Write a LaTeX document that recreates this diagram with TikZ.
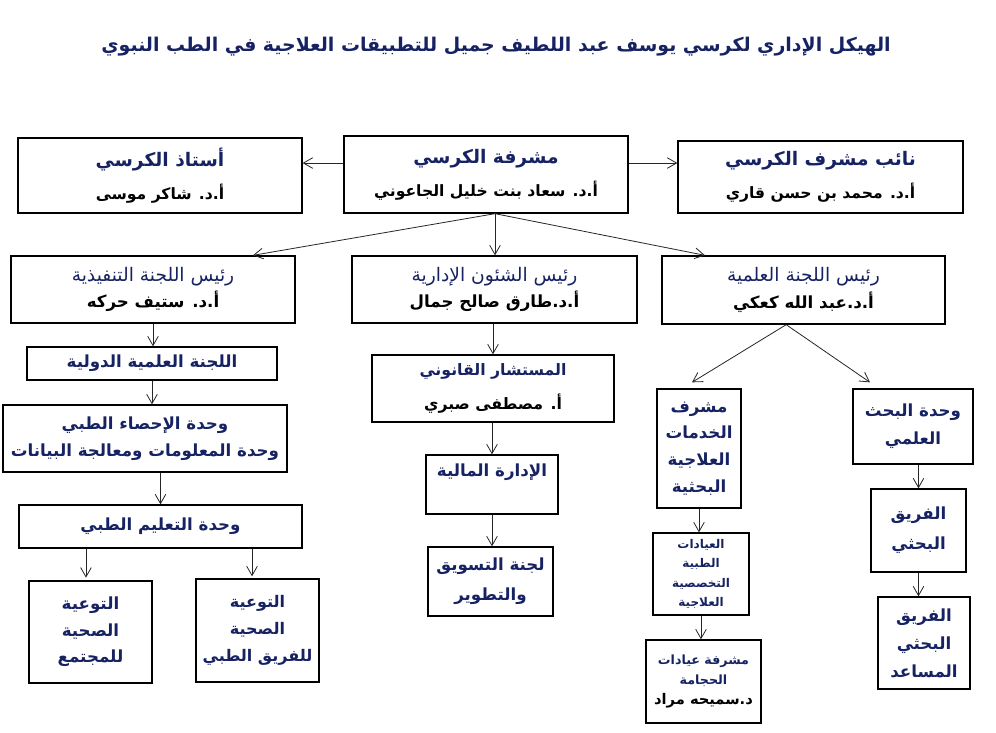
\documentclass[tikz,border=0pt]{standalone}
\usepackage{fontspec}
\newfontfamily\arabicfont[Script=Arabic]{DejaVu Sans}
\TeXXeTstate=1
\usepackage{tikz}
\usetikzlibrary{arrows.meta}
\usetikzlibrary{positioning}
\definecolor{navy}{RGB}{22,34,98}
\newcommand{\rl}[1]{\beginR #1\endR}

\begin{document}
\begin{tikzpicture}[x=0.75pt,y=-0.75pt]
	\useasboundingbox (0,0) rectangle (996,732);
	\node[font=\arabicfont\bfseries\fontsize{14.2}{18}\selectfont, text=navy] (title) at (496,47)
		{\rl{الهيكل الإداري لكرسي يوسف عبد اللطيف جميل للتطبيقات العلاجية في الطب النبوي}};

	\begin{scope}[every node/.style={draw, line width=1pt, align=center, inner sep=2pt, text=navy,
	              font=\arabicfont\bfseries\fontsize{12.5}{20}\selectfont}]
		% top row
		\node[minimum width=213pt, minimum height=56.25pt, font=\arabicfont\bfseries\fontsize{14}{25}\selectfont] (ustadh) at (160,175.5)
			{\rl{أستاذ الكرسي}\\{\color{black}\fontsize{11.7}{25}\selectfont\rl{أ.د. شاكر موسى}}};
		\node[minimum width=213pt, minimum height=57.75pt, font=\arabicfont\bfseries\fontsize{14}{25}\selectfont] (mushrifa) at (486,174.5)
			{\rl{مشرفة الكرسي}\\{\color{black}\fontsize{11.7}{25}\selectfont\rl{أ.د. سعاد بنت خليل الجاعوني}}};
		\node[minimum width=213.75pt, minimum height=54pt, font=\arabicfont\bfseries\fontsize{14}{25}\selectfont] (naib) at (820.5,177)
			{\rl{نائب مشرف الكرسي}\\{\color{black}\fontsize{11.7}{25}\selectfont\rl{أ.د. محمد بن حسن قاري}}};
		% second row
		\node[minimum width=213pt, minimum height=50.25pt] (tanfid) at (153,289.5)
			{{\mdseries\fontsize{14}{20}\selectfont\rl{رئيس اللجنة التنفيذية}}\\{\color{black}\rl{أ.د. ستيف حركه}}};
		\node[minimum width=213.75pt, minimum height=50.25pt] (shuun) at (494.5,289.5)
			{{\mdseries\fontsize{14}{20}\selectfont\rl{رئيس الشئون الإدارية}}\\{\color{black}\rl{أ.د.طارق صالح جمال}}};
		\node[minimum width=212.25pt, minimum height=51pt] (ilmiya) at (803.5,290)
			{{\mdseries\fontsize{14}{20}\selectfont\rl{رئيس اللجنة العلمية}}\\{\color{black}\rl{أ.د.عبد الله كعكي}}};
		% left column
		\node[minimum width=187.5pt, minimum height=24.75pt] (dawliya) at (152,363.5) {\rl{اللجنة العلمية الدولية}};
		\node[minimum width=213pt, minimum height=50.25pt] (ihsa) at (145,438.5)
			{\rl{وحدة الإحصاء الطبي}\\\rl{وحدة المعلومات ومعالجة البيانات}};
		\node[minimum width=212.25pt, minimum height=32.25pt] (taalim) at (160.5,526.5) {\rl{وحدة التعليم الطبي}};
		\node[minimum width=92.25pt, minimum height=76.5pt] (mujtama) at (90.5,632)
			{\rl{التوعية}\\\rl{الصحية}\\\rl{للمجتمع}};
		\node[minimum width=92.25pt, minimum height=77.25pt, font=\arabicfont\bfseries\fontsize{12}{20}\selectfont] (fariqtibbi) at (257.5,630.5)
			{\rl{التوعية}\\\rl{الصحية}\\\rl{للفريق الطبي}};
		% middle column
		\node[minimum width=181.5pt, minimum height=50.25pt, font=\arabicfont\bfseries\fontsize{11.8}{25}\selectfont] (mustashar) at (493,388.5)
			{\rl{المستشار القانوني}\\{\color{black}\rl{أ. مصطفى صبري}}};
		\node[minimum width=99pt, minimum height=44.25pt, text depth=22pt] (maliya) at (492,484.5) {\rl{الإدارة المالية}};
		\node[minimum width=93.75pt, minimum height=51.75pt, font=\arabicfont\bfseries\fontsize{12.5}{22.5}\selectfont] (taswiq) at (490.5,581.5)
			{\rl{لجنة التسويق}\\\rl{والتطوير}};
		% right column
		\node[minimum width=63pt, minimum height=89.25pt] (khadamat) at (699,448.5)
			{\rl{مشرف}\\\rl{الخدمات}\\\rl{العلاجية}\\\rl{البحثية}};
		\node[minimum width=90pt, minimum height=56.25pt, font=\arabicfont\bfseries\fontsize{12.5}{21}\selectfont] (bahth) at (913,426.5)
			{\rl{وحدة البحث}\\\rl{العلمي}};
		\node[minimum width=71.25pt, minimum height=62.25pt, font=\arabicfont\bfseries\fontsize{12.5}{22.5}\selectfont] (fariq) at (918.5,530.5)
			{\rl{الفريق}\\\rl{البحثي}};
		\node[minimum width=69pt, minimum height=69pt, font=\arabicfont\bfseries\fontsize{12.5}{21}\selectfont] (musaid) at (924,643)
			{\rl{الفريق}\\\rl{البحثي}\\\rl{المساعد}};
		\node[minimum width=72pt, minimum height=61.5pt, font=\arabicfont\bfseries\fontsize{9}{14.5}\selectfont] (iyadat) at (701,574)
			{\rl{العيادات}\\\rl{الطبية}\\\rl{التخصصية}\\\rl{العلاجية}};
		\node[minimum width=86.25pt, minimum height=62.25pt, font=\arabicfont\bfseries\fontsize{9.5}{15}\selectfont] (hijama) at (703.5,681.5)
			{\rl{مشرفة عيادات}\\\rl{الحجامة}\\{\color{black}\fontsize{11}{19}\selectfont\rl{د.سميحه مراد}}};
	\end{scope}

	\begin{scope}[>={Straight Barb[length=7pt,width=8pt]},
	              every edge/.style={draw=black!85, line width=0.6pt, ->}]
		\coordinate (mw) at ([yshift=8.6pt]mushrifa.west);
		\coordinate (me) at ([yshift=8.6pt]mushrifa.east);
		\coordinate (ms) at ([xshift=6.75pt]mushrifa.south);
		\coordinate (is) at ([xshift=-13pt]ilmiya.south);
		\path (mw) edge (mw -| ustadh.east);
		\path (me) edge (me -| naib.west);
		\path (ms) edge ([xshift=75pt]tanfid.north);
		\path (ms) edge (ms |- shuun.north);
		\path (ms) edge ([xshift=-73.9pt]ilmiya.north);
		\path (tanfid.south) edge (tanfid.south |- dawliya.north);
		\path (dawliya.south) edge (dawliya.south |- ihsa.north);
		\path (taalim.north |- ihsa.south) edge (taalim.north);
		\path ([xshift=-3.4pt]mujtama.north |- taalim.south) edge ([xshift=-3.4pt,yshift=2pt]mujtama.north);
		\path ([xshift=-4.1pt]fariqtibbi.north |- taalim.south) edge ([xshift=-4.1pt,yshift=1.5pt]fariqtibbi.north);
		\path (mustashar.north |- shuun.south) edge (mustashar.north);
		\path (maliya.north |- mustashar.south) edge (maliya.north);
		\path (maliya.south) edge (maliya.south |- taswiq.north);
		\path (is) edge ([xshift=-5.25pt,yshift=4.5pt]khadamat.north);
		\path (is) edge ([xshift=-32.25pt,yshift=4.5pt]bahth.north);
		\path (fariq.north |- bahth.south) edge (fariq.north);
		\path (fariq.south) edge (fariq.south |- musaid.north);
		\path (khadamat.south) edge (khadamat.south |- iyadat.north);
		\path (iyadat.south) edge (iyadat.south |- hijama.north);
	\end{scope}
\end{tikzpicture}
\end{document}
